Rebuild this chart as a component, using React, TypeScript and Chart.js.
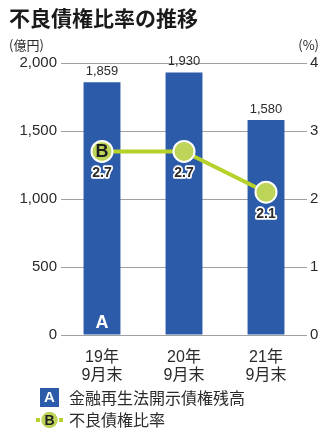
import React, { useEffect, useRef } from "react";
import { Chart, registerables } from "chart.js";

Chart.register(...registerables);

const categories: string[][] = [["19年", "9月末"], ["20年", "9月末"], ["21年", "9月末"]];
const amounts: number[] = [1859, 1930, 1580];
const ratios: number[] = [2.7, 2.7, 2.1];
const title = "不良債権比率の推移";
const leftUnit = "(億円)";
const rightUnit = "(%)";
const barLegend = "金融再生法開示債権残高";
const lineLegend = "不良債権比率";

const BAR = "#2b5ba9";
const LINE = "#b5d12a";
const POINT = "#bcd558";
const TEXT = "#2a2a2a";
const NUM = "'Liberation Sans', Arial, 'Noto Sans CJK JP', sans-serif";
const JP = "'Noto Sans CJK JP', 'Liberation Sans', sans-serif";

const labelPlugin = {
  id: "customLabels",
  afterDatasetsDraw(chart: any) {
    const ctx = chart.ctx;
    const barMeta = chart.getDatasetMeta(1);
    const lineMeta = chart.getDatasetMeta(0);
    ctx.save();
    ctx.textAlign = "center";
    ctx.textBaseline = "middle";
    barMeta.data.forEach((el: any, i: number) => {
      ctx.fillStyle = TEXT;
      ctx.font = `13px ${NUM}`;
      ctx.fillText(amounts[i].toLocaleString("en-US"), el.x, el.y - 11);
    });
    const b0 = barMeta.data[0];
    const zeroY = chart.scales.y.getPixelForValue(0);
    ctx.fillStyle = "#ffffff";
    ctx.font = `bold 18px ${NUM}`;
    ctx.fillText("A", b0.x, zeroY - 12);

    lineMeta.data.forEach((el: any, i: number) => {
      ctx.font = `bold 14px ${NUM}`;
      ctx.lineWidth = 3.5;
      ctx.lineJoin = "round";
      ctx.strokeStyle = "#ffffff";
      const t = ratios[i].toFixed(1);
      ctx.strokeText(t, el.x, el.y + 22);
      ctx.fillStyle = TEXT;
      ctx.fillText(t, el.x, el.y + 22);
    });
    const p0 = lineMeta.data[0];
    ctx.fillStyle = "#1e1e1e";
    ctx.font = `bold 18px ${NUM}`;
    ctx.fillText("B", p0.x, p0.y + 1);
    ctx.restore();
  },
  afterDraw(chart: any) {
    const ctx = chart.ctx;
    ctx.save();
    ctx.textBaseline = "middle";
    ctx.textAlign = "left";
    ctx.fillStyle = "#1a1a1a";
    ctx.font = `bold 21px ${JP}`;
    ctx.fillText(title, 9, 18);

    ctx.fillStyle = TEXT;
    ctx.font = `13px ${JP}`;
    ctx.fillText(leftUnit, 9, 45);
    ctx.textAlign = "right";
    ctx.fillText(rightUnit, 319, 45);

    // legend A
    ctx.textAlign = "left";
    ctx.fillStyle = BAR;
    ctx.fillRect(40, 388, 19, 19);
    ctx.fillStyle = "#ffffff";
    ctx.font = `bold 15px ${NUM}`;
    ctx.textAlign = "center";
    ctx.fillText("A", 49.5, 398);
    ctx.textAlign = "left";
    ctx.fillStyle = TEXT;
    ctx.font = `16px ${JP}`;
    ctx.fillText(barLegend, 69, 398);

    // legend B
    ctx.strokeStyle = LINE;
    ctx.lineWidth = 4;
    ctx.beginPath();
    ctx.moveTo(36, 420);
    ctx.lineTo(63, 420);
    ctx.stroke();
    ctx.beginPath();
    ctx.arc(49.5, 420, 9, 0, Math.PI * 2);
    ctx.fillStyle = POINT;
    ctx.fill();
    ctx.lineWidth = 1.5;
    ctx.strokeStyle = "#ffffff";
    ctx.stroke();
    ctx.fillStyle = "#1e1e1e";
    ctx.font = `bold 14px ${NUM}`;
    ctx.textAlign = "center";
    ctx.fillText("B", 49.5, 421);
    ctx.textAlign = "left";
    ctx.fillStyle = TEXT;
    ctx.font = `16px ${JP}`;
    ctx.fillText(lineLegend, 69, 420);
    ctx.restore();
  },
};

export default function App() {
  const ref = useRef<HTMLCanvasElement>(null);
  useEffect(() => {
    if (!ref.current) return;
    const chart = new Chart(ref.current, {
      type: "bar",
      data: {
        labels: categories,
        datasets: [
          {
            type: "line",
            label: lineLegend,
            data: ratios,
            yAxisID: "y1",
            borderColor: LINE,
            borderWidth: 4,
            backgroundColor: POINT,
            pointBackgroundColor: POINT,
            pointBorderColor: "#ffffff",
            pointBorderWidth: 2,
            pointRadius: 10.5,
            tension: 0,
            order: 0,
          } as any,
          {
            type: "bar",
            label: barLegend,
            data: amounts,
            yAxisID: "y",
            backgroundColor: BAR,
            categoryPercentage: 1,
            barPercentage: 0.45,
            order: 1,
          },
        ],
      },
      options: {
        responsive: false,
        animation: false,
        layout: { padding: { top: 63, left: 0, right: 0, bottom: 0 } },
        plugins: { legend: { display: false }, tooltip: { enabled: false }, title: { display: false } },
        scales: {
          x: {
            grid: { display: false },
            border: { display: false },
            ticks: { color: TEXT, font: { size: 16, family: NUM, lineHeight: 1.1 }, padding: 6 },
            afterFit: (s: any) => { s.height = 96; },
          },
          y: {
            position: "left",
            min: 0,
            max: 2000,
            grid: { color: "#a0a0a0", lineWidth: 1, drawTicks: false },
            border: { display: false },
            ticks: {
              stepSize: 500,
              padding: 4,
              color: TEXT,
              font: { size: 15, family: NUM },
              callback: (v: any) => Number(v).toLocaleString("en-US"),
            },
            afterFit: (s: any) => { s.width = 61; },
          },
          y1: {
            position: "right",
            min: 0,
            max: 4,
            grid: { display: false, drawTicks: false },
            border: { display: false },
            ticks: { stepSize: 1, padding: 3, color: TEXT, font: { size: 15, family: NUM } },
            afterFit: (s: any) => { s.width = 14; },
          },
        },
      },
      plugins: [labelPlugin],
    });
    return () => chart.destroy();
  }, []);
  return (
    <div style={{ position: "fixed", left: 0, top: 0, width: 321, height: 431, background: "#fff" }}>
      <canvas ref={ref} width={321} height={431} />
    </div>
  );
}
